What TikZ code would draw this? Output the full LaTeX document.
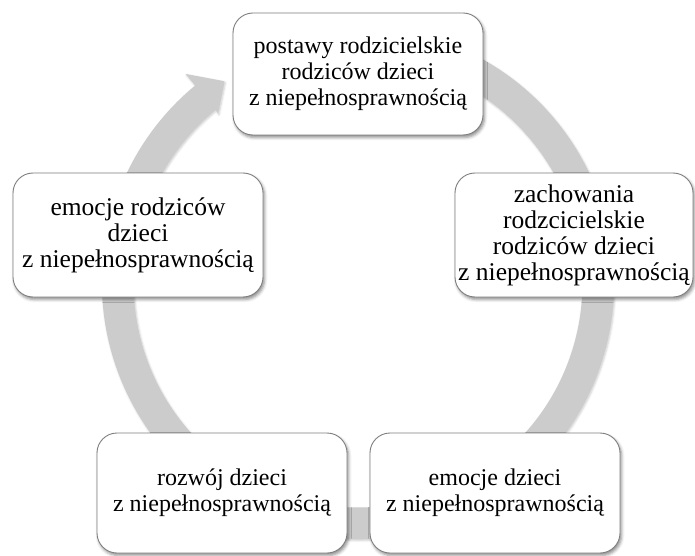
\documentclass[tikz,border=0pt]{standalone}
\usepackage{fontspec}
\setmainfont{Liberation Serif}
\usetikzlibrary{shadows.blur}
\definecolor{ringgray}{HTML}{CCCCCC}
\definecolor{edgegray}{HTML}{7F7F7F}
\begin{document}
\begin{tikzpicture}[x=1pt,y=1pt,
  stagebox/.style={draw=edgegray, line width=0.9pt, fill=white,
    rounded corners=20pt, minimum width=250pt, minimum height=122pt,
    align=center, inner sep=0pt, font=\fontsize{24}{26}\selectfont,
    % a tall strut on the first line sets the text a little below the middle
    execute at begin node={\rule{0pt}{34pt}},
    blur shadow={shadow xshift=1.5pt, shadow yshift=-2.5pt,
      shadow blur radius=3pt, shadow opacity=45}},
  sidebox/.style={stagebox, minimum height=124pt, font=\fontsize{25.5}{26}\selectfont},
  ring/.style={fill=ringgray, blur shadow={shadow xshift=1pt, shadow yshift=-1.5pt,
      shadow blur radius=2pt, shadow opacity=20}},
]
\useasboundingbox (0,0) rectangle (695,555);
\coordinate (ctr) at (358,272);

% circular arrow running clockwise behind the stages
\path[ring]
  ([shift={(75:256)}]ctr) arc[start angle=75, end angle=-230.5, radius=256pt]
  -- ([shift={(-230.5:271)}]ctr)
  -- ([shift={(-236.5:242)}]ctr)
  -- ([shift={(-230.5:220)}]ctr)
  -- ([shift={(-230.5:224.5)}]ctr)
  arc[start angle=-230.5, end angle=75, radius=224.5pt] -- cycle;

% stages of the cycle
\node[stagebox] (attitudes) at (358,481)
  {postawy rodzicielskie\\rodziców dzieci\\z niepełnosprawnością};
\node[sidebox, minimum width=238pt] (behaviour) at (574,320)
  {zachowania\\rodzcicielskie\\rodziców dzieci\\z niepełnosprawnością};
\node[stagebox, minimum height=120pt] (childemo) at (495,62)
  {emocje dzieci\\z niepełnosprawnością};
\node[stagebox, minimum height=120pt] (growth) at (222,62)
  {rozwój dzieci\\z niepełnosprawnością};
\node[sidebox] (parentemo) at (138,320)
  {emocje rodziców\\dzieci\\z niepełnosprawnością};
\end{tikzpicture}
\end{document}
